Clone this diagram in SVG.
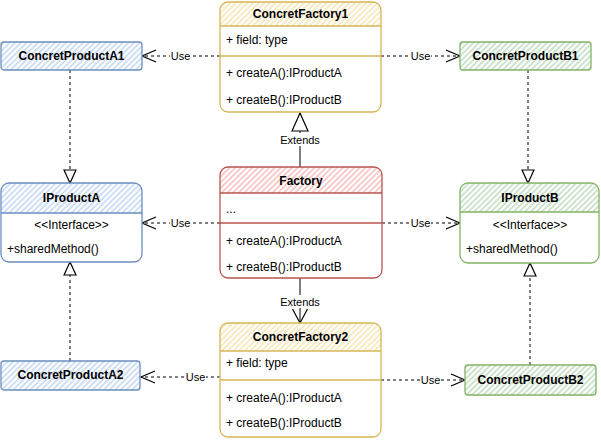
<svg xmlns="http://www.w3.org/2000/svg" width="601" height="440" viewBox="0 0 601 440">
<defs>
<style>
.t{font-family:"Liberation Sans",Arial,Helvetica,sans-serif;font-size:12px;fill:#000}
.b{font-weight:bold}
.c{text-anchor:middle}
.lb{font-family:"Liberation Sans",Arial,Helvetica,sans-serif;font-size:11px;fill:#000;text-anchor:middle}
.dash{fill:none;stroke:#000;stroke-width:1;stroke-dasharray:3 3}
.solid{fill:none;stroke:#000;stroke-width:1}
.bg{fill:#fff}
.blue{stroke:#6c8ebf;stroke-width:1.3}
.green{stroke:#82b366;stroke-width:1.3}
.yellow{stroke:#d6b656;stroke-width:1.3}
.red{stroke:#b85450;stroke-width:1.3}
.nf{fill:none}
</style>
<pattern id="hb" width="4" height="4" patternUnits="userSpaceOnUse" patternTransform="rotate(45)"><rect width="4" height="4" fill="#fff"/><line x1="1" y1="0" x2="1" y2="4" stroke="#c3d7f3" stroke-width="1.6"/></pattern>
<pattern id="hg" width="4" height="4" patternUnits="userSpaceOnUse" patternTransform="rotate(45)"><rect width="4" height="4" fill="#fff"/><line x1="1" y1="0" x2="1" y2="4" stroke="#c2dcc0" stroke-width="1.6"/></pattern>
<pattern id="hy" width="4" height="4" patternUnits="userSpaceOnUse" patternTransform="rotate(45)"><rect width="4" height="4" fill="#fff"/><line x1="1" y1="0" x2="1" y2="4" stroke="#f7e6b5" stroke-width="1.6"/></pattern>
<pattern id="hr" width="4" height="4" patternUnits="userSpaceOnUse" patternTransform="rotate(45)"><rect width="4" height="4" fill="#fff"/><line x1="1" y1="0" x2="1" y2="4" stroke="#f3c0bd" stroke-width="1.6"/></pattern>
<marker id="open" markerUnits="userSpaceOnUse" markerWidth="16" markerHeight="14" refX="14" refY="6" orient="auto" overflow="visible"><path d="M0,0 L14,6 L0,12" fill="none" stroke="#000" stroke-width="1.2"/></marker>
<marker id="tri" markerUnits="userSpaceOnUse" markerWidth="15" markerHeight="14" refX="13" refY="6" orient="auto" overflow="visible"><path d="M0,0 L13,6 L0,12 Z" fill="#fff" stroke="#000" stroke-width="1.2"/></marker>
<marker id="tribig" markerUnits="userSpaceOnUse" markerWidth="20" markerHeight="18" refX="18" refY="8" orient="auto" overflow="visible"><path d="M0,0 L18,8 L0,16 Z" fill="#fff" stroke="#000" stroke-width="1.2"/></marker>
<marker id="vee" markerUnits="userSpaceOnUse" markerWidth="16" markerHeight="16" refX="14" refY="7.5" orient="auto" overflow="visible"><path d="M0,0 L14,7.5 L0,15" fill="none" stroke="#000" stroke-width="1.2"/></marker>
</defs>

<g id="connectors">
<path class="dash" d="M220,56 H142" marker-end="url(#open)"/>
<path class="dash" d="M381,56 H460" marker-end="url(#open)"/>
<path class="dash" d="M220,223 H142" marker-end="url(#open)"/>
<path class="dash" d="M382,223 H460" marker-end="url(#open)"/>
<path class="dash" d="M220,377 H141" marker-end="url(#open)"/>
<path class="dash" d="M381,380 H465" marker-end="url(#open)"/>
<path class="dash" d="M70,70 V183" marker-end="url(#tri)"/>
<path class="dash" d="M528,70 V183" marker-end="url(#tri)"/>
<path class="dash" d="M70,361 V262" marker-end="url(#tri)"/>
<path class="dash" d="M530,365 V263" marker-end="url(#tri)"/>
<path class="solid" d="M300,167 V113" marker-end="url(#tribig)"/>
<path class="solid" d="M300,278 V323" marker-end="url(#vee)"/>
<rect class="bg" x="170" y="49" width="21" height="13"/><text class="lb" x="180.5" y="60">Use</text>
<rect class="bg" x="410" y="49" width="21" height="13"/><text class="lb" x="420.5" y="60">Use</text>
<rect class="bg" x="170" y="216" width="21" height="13"/><text class="lb" x="180.5" y="227">Use</text>
<rect class="bg" x="410" y="216" width="21" height="13"/><text class="lb" x="420.5" y="227">Use</text>
<rect class="bg" x="185" y="370" width="21" height="13"/><text class="lb" x="195.5" y="381">Use</text>
<rect class="bg" x="420" y="373" width="21" height="13"/><text class="lb" x="430.5" y="384">Use</text>
<rect class="bg" x="280" y="133" width="40" height="13"/><text class="lb" x="300" y="144">Extends</text>
<rect class="bg" x="280" y="295" width="40" height="13"/><text class="lb" x="300" y="306">Extends</text>
</g>

<g id="ConcretFactory1">
<rect x="220" y="2" width="161" height="110" rx="8" fill="#fff"/>
<path d="M220,26 V10 Q220,2 228,2 H373 Q381,2 381,10 V26 Z" fill="url(#hy)"/>
<rect class="yellow nf" x="220" y="2" width="161" height="110" rx="8"/>
<line class="yellow" x1="220" y1="26" x2="381" y2="26"/>
<line class="yellow" x1="220" y1="56" x2="381" y2="56"/>
<text class="t b c" x="300.5" y="18">ConcretFactory1</text>
<text class="t" x="226" y="44">+ field: type</text>
<text class="t" x="226" y="77">+ createA():IProductA</text>
<text class="t" x="226" y="104">+ createB():IProductB</text>
</g>

<g id="Factory">
<rect x="220" y="167" width="162" height="111" rx="8" fill="#fff"/>
<path d="M220,193 V175 Q220,167 228,167 H374 Q382,167 382,175 V193 Z" fill="url(#hr)"/>
<rect class="red nf" x="220" y="167" width="162" height="111" rx="8"/>
<line class="red" x1="220" y1="193" x2="382" y2="193"/>
<line class="red" x1="220" y1="223" x2="382" y2="223"/>
<text class="t b c" x="301" y="185">Factory</text>
<text class="t" x="226" y="213">...</text>
<text class="t" x="226" y="245">+ createA():IProductA</text>
<text class="t" x="226" y="271">+ createB():IProductB</text>
</g>

<g id="ConcretFactory2">
<rect x="220" y="323" width="161" height="114" rx="8" fill="#fff"/>
<path d="M220,351 V331 Q220,323 228,323 H373 Q381,323 381,331 V351 Z" fill="url(#hy)"/>
<rect class="yellow nf" x="220" y="323" width="161" height="114" rx="8"/>
<line class="yellow" x1="220" y1="351" x2="381" y2="351"/>
<line class="yellow" x1="220" y1="380" x2="381" y2="380"/>
<text class="t b c" x="300.5" y="341">ConcretFactory2</text>
<text class="t" x="226" y="367">+ field: type</text>
<text class="t" x="226" y="402">+ createA():IProductA</text>
<text class="t" x="226" y="427">+ createB():IProductB</text>
</g>

<g id="IProductA">
<rect x="1" y="183" width="141" height="79" rx="8" fill="#fff"/>
<path d="M1,213 V191 Q1,183 9,183 H134 Q142,183 142,191 V213 Z" fill="url(#hb)"/>
<rect class="blue nf" x="1" y="183" width="141" height="79" rx="8"/>
<line class="blue" x1="1" y1="213" x2="142" y2="213"/>
<text class="t b c" x="71.5" y="202">IProductA</text>
<text class="t c" x="71.5" y="229">&lt;&lt;Interface&gt;&gt;</text>
<text class="t" x="7" y="253">+sharedMethod()</text>
</g>

<g id="IProductB">
<rect x="460" y="183" width="139" height="80" rx="8" fill="#fff"/>
<path d="M460,212 V191 Q460,183 468,183 H591 Q599,183 599,191 V212 Z" fill="url(#hg)"/>
<rect class="green nf" x="460" y="183" width="139" height="80" rx="8"/>
<line class="green" x1="460" y1="212" x2="599" y2="212"/>
<text class="t b c" x="530" y="202">IProductB</text>
<text class="t c" x="530" y="229">&lt;&lt;Interface&gt;&gt;</text>
<text class="t" x="466" y="253">+sharedMethod()</text>
</g>

<g id="ConcretProductA1">
<rect class="blue" x="1" y="42" width="141" height="28" rx="3" fill="url(#hb)"/>
<text class="t b c" x="71.5" y="60">ConcretProductA1</text>
</g>

<g id="ConcretProductB1">
<rect class="green" x="460" y="42" width="131" height="28" rx="3" fill="url(#hg)"/>
<text class="t b c" x="525.5" y="60">ConcretProductB1</text>
</g>

<g id="ConcretProductA2">
<rect class="blue" x="1" y="361" width="139" height="29" rx="3" fill="url(#hb)"/>
<text class="t b c" x="70.5" y="379">ConcretProductA2</text>
</g>

<g id="ConcretProductB2">
<rect class="green" x="465" y="365" width="131" height="30" rx="3" fill="url(#hg)"/>
<text class="t b c" x="530.5" y="384">ConcretProductB2</text>
</g>
</svg>
